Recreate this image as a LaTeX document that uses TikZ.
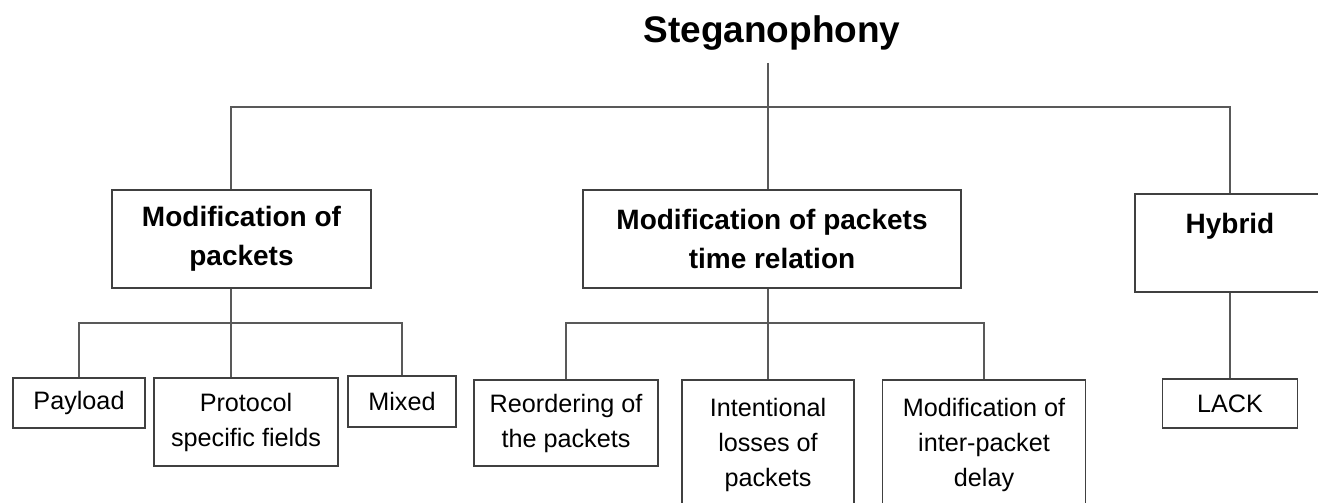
\documentclass[tikz,border=0pt]{standalone}
\usepackage{fontspec}
\setmainfont{Liberation Sans}

\begin{document}
\begin{tikzpicture}[x=0.5pt, y=-0.5pt,
    catbox/.style={rectangle, draw=black!75, line width=0.9pt, align=center, font=\fontsize{14}{19.5}\selectfont\bfseries},
    leafbox/.style={rectangle, draw=black!75, line width=0.9pt, align=center, font=\fontsize{12.6}{17.5}\selectfont},
    link/.style={draw=black!65, line width=0.9pt}]
    \useasboundingbox (0,0) rectangle (1318,503);

    % Root
    \node[anchor=base, font=\fontsize{18.5}{22}\selectfont\bfseries] (STEG) at (772,42) {Steganophony};

    % Main categories
    \node[catbox, minimum width=129.5pt, minimum height=49pt] (MOD) at (241.5,239) {Modification of\\packets};
    \node[catbox, minimum width=189pt, minimum height=49pt] (TIME) at (772,239) {Modification of packets\\time relation};
    \node[catbox, minimum width=95pt, minimum height=49pt] (HYB) at (1230,243) {Hybrid\\~};

    % Leaves
    \node[leafbox, minimum width=66pt, minimum height=25pt] (PAY) at (79,403) {Payload};
    \node[leafbox, minimum width=92pt, minimum height=44pt] (PROT) at (246,422) {Protocol\\specific fields};
    \node[leafbox, minimum width=54pt, minimum height=25.5pt] (MIX) at (402,401.5) {Mixed};
    \node[leafbox, minimum width=92pt, minimum height=43pt] (REORD) at (566,423) {Reordering of\\the packets};
    \node[leafbox, minimum width=86pt, minimum height=65pt] (LOSS) at (768,445) {Intentional\\losses of\\packets};
    \node[leafbox, minimum width=101.5pt, minimum height=65pt] (DELAY) at (984,445) {Modification of\\inter-packet\\delay};
    \node[leafbox, minimum width=67.5pt, minimum height=24.5pt] (LACK) at (1230,403.5) {LACK};

    % Junctions
    \coordinate (J0) at (768,107);
    \coordinate (J1) at (231,323);
    \coordinate (J2) at (768,323);

    % Connections
    \draw[link, shorten <=3pt] (STEG.south -| J0) -- (J0 |- TIME.north);
    \draw[link] (J1 |- MOD.north) |- (J0) -| (HYB.north);

    \draw[link] (J1 |- MOD.south) -- (J1 |- PROT.north);
    \draw[link] (PAY.north) |- (J1) -| (MIX.north);

    \draw[link] (J2 |- TIME.south) -- (LOSS.north);
    \draw[link] (REORD.north) |- (J2) -| (DELAY.north);

    \draw[link] (HYB.south) -- (LACK.north);
\end{tikzpicture}
\end{document}
